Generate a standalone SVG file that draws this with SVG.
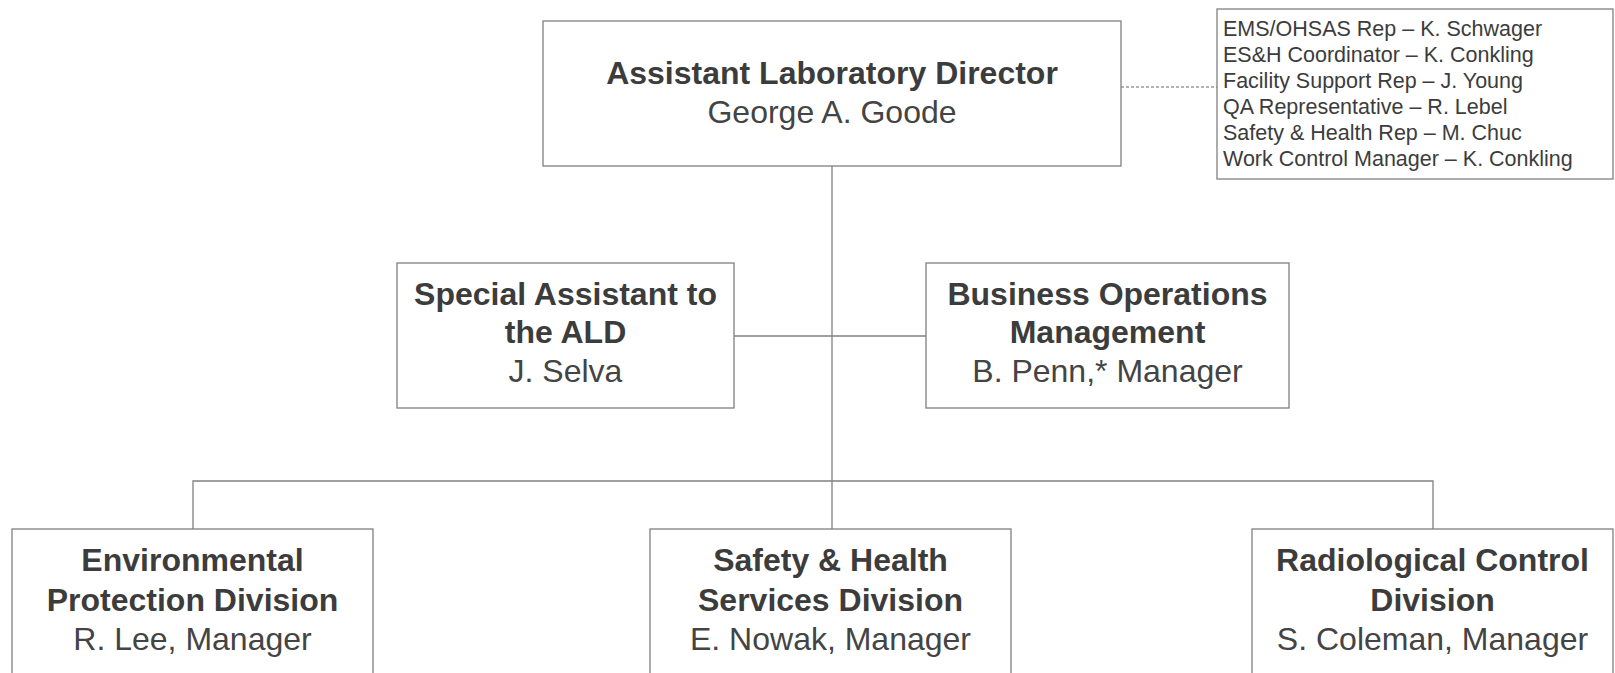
<svg xmlns="http://www.w3.org/2000/svg" width="1615" height="673" viewBox="0 0 1615 673">
<style>
.box{fill:#ffffff;stroke:#808080;stroke-width:1.3}
.b{font-family:"Liberation Sans",Arial,sans-serif;font-weight:bold;font-size:32px;fill:#3c3c3c;text-anchor:middle}
.r{font-family:"Liberation Sans",Arial,sans-serif;font-size:32px;fill:#444444;text-anchor:middle}
.l{font-family:"Liberation Sans",Arial,sans-serif;font-size:21.5px;fill:#3c3c3c}
.c{fill:none;stroke:#808080;stroke-width:1.3}
.d{fill:none;stroke:#999999;stroke-width:1.3;stroke-dasharray:3 2}
</style>
<rect width="1615" height="673" fill="#ffffff"/>
<g id="connectors">
<line class="c" x1="832" y1="166" x2="832" y2="529"/>
<line class="c" x1="734" y1="336" x2="926" y2="336"/>
<polyline class="c" points="193,529 193,481 1433,481 1433,529"/>
<line class="d" x1="1121" y1="87" x2="1217" y2="87"/>
</g>
<g id="ald">
<rect class="box" x="543" y="21" width="578" height="145"/>
<text class="b" x="832" y="84">Assistant Laboratory Director</text>
<text class="r" x="832" y="123">George A. Goode</text>
</g>
<g id="reps">
<rect class="box" x="1217" y="9" width="396" height="170"/>
<text class="l" x="1223" y="36">EMS/OHSAS Rep – K. Schwager</text>
<text class="l" x="1223" y="62">ES&amp;H Coordinator – K. Conkling</text>
<text class="l" x="1223" y="88">Facility Support Rep – J. Young</text>
<text class="l" x="1223" y="114">QA Representative – R. Lebel</text>
<text class="l" x="1223" y="140">Safety &amp; Health Rep – M. Chuc</text>
<text class="l" x="1223" y="166">Work Control Manager – K. Conkling</text>
</g>
<g id="special-assistant">
<rect class="box" x="397" y="263" width="337" height="145"/>
<text class="b" x="565.5" y="305">Special Assistant to</text>
<text class="b" x="565.5" y="343">the ALD</text>
<text class="r" x="565.5" y="382">J. Selva</text>
</g>
<g id="business-ops">
<rect class="box" x="926" y="263" width="363" height="145"/>
<text class="b" x="1107.5" y="305">Business Operations</text>
<text class="b" x="1107.5" y="343">Management</text>
<text class="r" x="1107.5" y="382">B. Penn,* Manager</text>
</g>
<g id="env-protection">
<rect class="box" x="12" y="529" width="361" height="160"/>
<text class="b" x="192.5" y="571">Environmental</text>
<text class="b" x="192.5" y="611">Protection Division</text>
<text class="r" x="192.5" y="650">R. Lee, Manager</text>
</g>
<g id="safety-health">
<rect class="box" x="650" y="529" width="361" height="160"/>
<text class="b" x="830.5" y="571">Safety &amp; Health</text>
<text class="b" x="830.5" y="611">Services Division</text>
<text class="r" x="830.5" y="650">E. Nowak, Manager</text>
</g>
<g id="rad-control">
<rect class="box" x="1252" y="529" width="361" height="160"/>
<text class="b" x="1432.5" y="571">Radiological Control</text>
<text class="b" x="1432.5" y="611">Division</text>
<text class="r" x="1432.5" y="650">S. Coleman, Manager</text>
</g>
</svg>
